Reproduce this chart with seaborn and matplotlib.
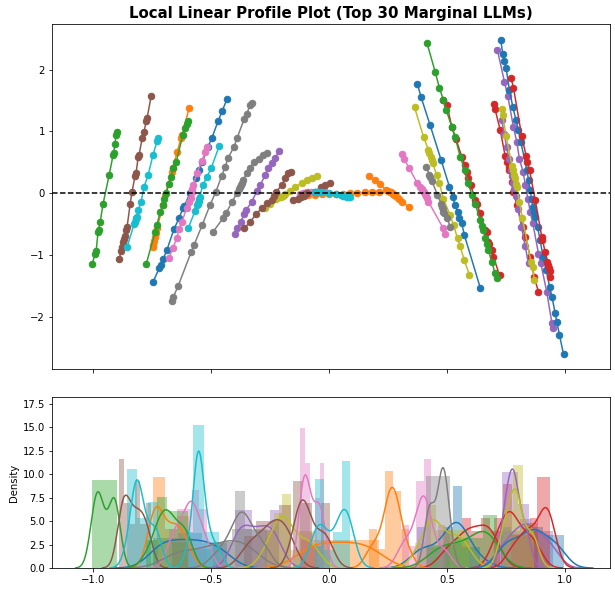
import numpy as np
import matplotlib
matplotlib.use("Agg")
import matplotlib.pyplot as plt
import seaborn as sns

# ---------------- data ----------------
# Round 1 groups (colour cycle order: blue, orange, green, red, purple, brown, pink, gray, olive, cyan)
bl1_x = [-0.746, -0.72, -0.713, -0.703, -0.687, -0.657, -0.636, -0.619, -0.614, -0.589, -0.564, -0.551, -0.538, -0.513, -0.497, -0.470, -0.453, -0.433]
bl1_y = [-1.44, -1.22, -1.17, -1.07, -0.92, -0.58, -0.41, -0.24, -0.21, 0.0, 0.24, 0.37, 0.5, 0.75, 0.89, 1.17, 1.33, 1.52]
o1_x = [-0.747, -0.745, -0.741, -0.737, -0.733, -0.729, -0.703, -0.695, -0.667, -0.662, -0.644, -0.628, -0.623, -0.593]
o1_y = [-0.875, -0.84, -0.78, -0.71, -0.64, -0.57, -0.19, -0.03, 0.34, 0.41, 0.66, 0.89, 0.94, 1.38]
g1_x = [-1.004, -0.992, -0.987, -0.979, -0.977, -0.970, -0.958, -0.932, -0.915, -0.913, -0.907, -0.903, -0.898]
g1_y = [-1.15, -0.99, -0.94, -0.63, -0.60, -0.47, -0.18, 0.29, 0.62, 0.65, 0.79, 0.94, 0.99]
r1_x = [0.484, 0.499, 0.52, 0.538, 0.562, 0.576, 0.583, 0.59, 0.60, 0.619, 0.626, 0.64, 0.661, 0.668, 0.675, 0.679, 0.689, 0.696, 0.722]
r1_y = [1.51, 1.43, 1.07, 0.87, 0.59, 0.45, 0.35, 0.24, 0.13, -0.11, -0.17, -0.33, -0.60, -0.63, -0.79, -0.82, -0.92, -1.03, -1.33]
pu1_x = [-0.40, -0.389, -0.375, -0.36, -0.352, -0.328, -0.306, -0.292, -0.271, -0.258, -0.243, -0.229, -0.212]
pu1_y = [-0.67, -0.57, -0.47, -0.34, -0.28, -0.14, 0.03, 0.13, 0.29, 0.41, 0.49, 0.57, 0.68]
b1_x = [-0.890, -0.881, -0.877, -0.872, -0.868, -0.864, -0.860, -0.856, -0.843, -0.835, -0.822, -0.818, -0.809, -0.805, -0.792, -0.784, -0.775, -0.771, -0.754]
b1_y = [-1.07, -0.94, -0.88, -0.80, -0.74, -0.69, -0.60, -0.55, -0.18, 0.02, 0.28, 0.32, 0.58, 0.62, 0.89, 0.99, 1.17, 1.22, 1.57]
p1_x = [-0.678, -0.662, -0.645, -0.636, -0.624, -0.603, -0.593, -0.586, -0.582, -0.579, -0.576, -0.561, -0.539, -0.525, -0.518]
p1_y = [-1.05, -0.89, -0.73, -0.58, -0.47, -0.24, -0.15, -0.08, 0.02, 0.07, 0.13, 0.32, 0.52, 0.66, 0.75]
gr1_x = [-0.667, -0.661, -0.64, -0.585, -0.572, -0.538, -0.504, -0.48, -0.455, -0.441, -0.428, -0.403, -0.39, -0.36, -0.349, -0.335, -0.326]
gr1_y = [-1.75, -1.69, -1.51, -0.96, -0.84, -0.52, -0.19, 0.02, 0.28, 0.42, 0.57, 0.75, 0.89, 1.2, 1.28, 1.43, 1.46]
y1_x = [-0.271, -0.25, -0.225, -0.21, -0.203, -0.197, -0.19, -0.186, -0.165, -0.144, -0.116, -0.095, -0.074, -0.053]
y1_y = [-0.24, -0.18, -0.09, -0.07, -0.06, -0.05, -0.03, -0.02, 0.03, 0.10, 0.16, 0.21, 0.25, 0.28]
c1_x = [-0.856, -0.826, -0.822, -0.820, -0.817, -0.814, -0.809, -0.797, -0.784, -0.767, -0.746, -0.729, -0.725]
c1_y = [-0.875, -0.50, -0.47, -0.42, -0.40, -0.39, -0.28, -0.15, 0.10, 0.29, 0.62, 0.84, 0.89]

# Round 2 groups
bl2_x = [0.374, 0.39, 0.428, 0.475, 0.51, 0.523, 0.534, 0.544, 0.552, 0.562, 0.573, 0.64]
bl2_y = [1.77, 1.55, 1.10, 0.53, 0.10, -0.06, -0.19, -0.30, -0.41, -0.49, -0.68, -1.53]
o2_x = [-0.12, -0.09, -0.06, -0.03, 0.0, 0.03, 0.06, 0.09, 0.12, 0.15, 0.18, 0.21]
o2_y = [-0.04, -0.03, -0.03, -0.02, -0.02, -0.01, -0.01, 0.0, 0.0, 0.01, 0.02, 0.02]
g2_x = [-0.775, -0.737, -0.73, -0.716, -0.705, -0.70, -0.691, -0.678, -0.669, -0.661, -0.648, -0.62, -0.61, -0.603, -0.599]
g2_y = [-1.15, -0.63, -0.52, -0.31, -0.19, -0.10, 0.0, 0.15, 0.26, 0.41, 0.50, 0.94, 1.05, 1.12, 1.17]
r2_x = [0.70, 0.703, 0.725, 0.746, 0.755, 0.76, 0.764, 0.774, 0.781, 0.795, 0.821, 0.831, 0.852, 0.869, 0.887]
r2_y = [1.44, 1.36, 1.02, 0.60, 0.50, 0.43, 0.37, 0.18, 0.02, -0.19, -0.55, -0.71, -1.03, -1.36, -1.60]
pu2_x = [0.713, 0.743, 0.757, 0.781, 0.795, 0.806, 0.821, 0.832, 0.842, 0.852, 0.863, 0.887, 0.897, 0.922, 0.944, 0.95]
pu2_y = [2.32, 1.80, 1.57, 1.07, 0.83, 0.56, 0.35, 0.13, -0.09, -0.30, -0.49, -0.98, -1.14, -1.60, -2.11, -2.19]
b2_x = [-0.36, -0.335, -0.309, -0.285, -0.264, -0.243, -0.232, -0.225, -0.2, -0.186, -0.174, -0.162]
b2_y = [-0.57, -0.47, -0.34, -0.24, -0.16, -0.11, -0.05, 0.02, 0.13, 0.24, 0.32, 0.35]
p2_x = [-0.123, -0.115, -0.11, -0.105, -0.1, -0.095, -0.088, -0.075, -0.06, -0.045, -0.04, -0.035, -0.02]
p2_y = [-0.02, -0.01, 0.0, 0.0, 0.0, 0.01, 0.01, 0.01, 0.02, 0.02, 0.03, 0.04, 0.05]
gr2_x = [-0.492, -0.45, -0.436, -0.412, -0.391, -0.38, -0.377, -0.372, -0.368, -0.364, -0.349, -0.335, -0.318, -0.297, -0.28, -0.264]
gr2_y = [-0.63, -0.41, -0.32, -0.15, 0.0, 0.07, 0.10, 0.13, 0.17, 0.21, 0.32, 0.41, 0.50, 0.55, 0.62, 0.65]
y2_x = [0.362, 0.40, 0.421, 0.425, 0.431, 0.435, 0.439, 0.456, 0.467, 0.484, 0.513, 0.527, 0.544, 0.555, 0.573, 0.594]
y2_y = [1.39, 0.91, 0.70, 0.65, 0.59, 0.53, 0.48, 0.29, 0.17, -0.09, -0.36, -0.52, -0.73, -0.86, -1.09, -1.32]
c2_x = [-0.597, -0.568, -0.558, -0.556, -0.555, -0.553, -0.551, -0.549, -0.535, -0.518, -0.50, -0.466]
c2_y = [-0.57, -0.29, -0.20, -0.18, -0.16, -0.13, -0.10, -0.07, 0.13, 0.26, 0.40, 0.76]

# Round 3 groups
bl3_x = [0.727, 0.736, 0.743, 0.75, 0.764, 0.778, 0.792, 0.802, 0.812, 0.838, 0.845, 0.852, 0.858, 0.863, 0.868, 0.873, 0.883, 0.894, 0.906, 0.92, 0.934, 0.944, 0.958, 0.965, 0.976, 0.993]
bl3_y = [2.48, 2.25, 2.14, 2.02, 1.67, 1.40, 1.18, 1.02, 0.83, 0.37, 0.21, 0.05, -0.10, -0.22, -0.30, -0.38, -0.55, -0.76, -1.03, -1.25, -1.52, -1.68, -1.95, -2.09, -2.30, -2.61]
o3_x = [0.167, 0.195, 0.216, 0.241, 0.25, 0.256, 0.262, 0.266, 0.271, 0.276, 0.287, 0.298, 0.308, 0.34]
o3_y = [0.28, 0.21, 0.14, 0.05, 0.03, 0.02, 0.01, 0.0, -0.01, -0.03, -0.06, -0.10, -0.14, -0.23]
g3_x = [0.414, 0.449, 0.467, 0.484, 0.496, 0.52, 0.534, 0.555, 0.576, 0.59, 0.605, 0.619, 0.64, 0.647, 0.654, 0.661, 0.671, 0.675, 0.689, 0.703, 0.71]
g3_y = [2.44, 1.97, 1.71, 1.51, 1.35, 1.07, 0.91, 0.59, 0.37, 0.16, -0.03, -0.17, -0.44, -0.54, -0.60, -0.73, -0.82, -0.92, -1.11, -1.30, -1.38]
r3_x = [0.771, 0.781, 0.816, 0.835, 0.84, 0.849, 0.873, 0.901, 0.904, 0.915, 0.925, 0.928, 0.931, 0.934, 0.936]
r3_y = [1.86, 1.71, 0.92, 0.60, 0.51, 0.37, -0.11, -0.71, -0.76, -0.95, -1.11, -1.16, -1.21, -1.27, -1.36]
pu3_x = [0.732, 0.742, 0.752, 0.762, 0.77, 0.775, 0.78, 0.785, 0.79, 0.80, 0.815, 0.83, 0.845]
pu3_y = [1.18, 0.95, 0.75, 0.55, 0.38, 0.28, 0.17, 0.07, -0.05, -0.25, -0.55, -0.85, -1.14]
b3_x = [-0.153, -0.133, -0.12, -0.114, -0.108, -0.102, -0.093, -0.06, -0.034, -0.017, 0.004]
b3_y = [-0.11, -0.09, -0.06, -0.05, -0.04, -0.02, 0.0, 0.02, 0.10, 0.13, 0.16]
p3_x = [0.308, 0.318, 0.34, 0.372, 0.385, 0.392, 0.397, 0.402, 0.406, 0.411, 0.415, 0.421, 0.482, 0.493]
p3_y = [0.63, 0.55, 0.40, 0.17, 0.10, 0.06, 0.04, 0.02, -0.01, -0.05, -0.08, -0.14, -0.56, -0.66]
gr3_x = [0.411, 0.425, 0.428, 0.435, 0.459, 0.475, 0.478, 0.481, 0.484, 0.488, 0.501, 0.513]
gr3_y = [0.43, 0.30, 0.26, 0.20, -0.03, -0.18, -0.22, -0.26, -0.30, -0.33, -0.41, -0.55]
y3_x = [0.732, 0.736, 0.75, 0.775, 0.778, 0.783, 0.787, 0.792, 0.795, 0.806, 0.819, 0.855, 0.863, 0.869]
y3_y = [1.37, 1.26, 0.92, 0.44, 0.38, 0.30, 0.24, 0.15, 0.10, -0.14, -0.41, -1.11, -1.19, -1.41]
c3_x = [-0.06, -0.05, -0.045, -0.04, -0.03, 0.0, 0.03, 0.05, 0.06, 0.065, 0.07, 0.075, 0.08, 0.09]
c3_y = [0.02, 0.02, 0.01, 0.01, 0.01, 0.0, -0.01, -0.03, -0.04, -0.05, -0.05, -0.06, -0.06, -0.07]

groups_x = [bl1_x, o1_x, g1_x, r1_x, pu1_x, b1_x, p1_x, gr1_x, y1_x, c1_x,
            bl2_x, o2_x, g2_x, r2_x, pu2_x, b2_x, p2_x, gr2_x, y2_x, c2_x,
            bl3_x, o3_x, g3_x, r3_x, pu3_x, b3_x, p3_x, gr3_x, y3_x, c3_x]
groups_y = [bl1_y, o1_y, g1_y, r1_y, pu1_y, b1_y, p1_y, gr1_y, y1_y, c1_y,
            bl2_y, o2_y, g2_y, r2_y, pu2_y, b2_y, p2_y, gr2_y, y2_y, c2_y,
            bl3_y, o3_y, g3_y, r3_y, pu3_y, b3_y, p3_y, gr3_y, y3_y, c3_y]

# histogram bin counts per group (same order as above)
hist_bins = [3, 3, 1, 6, 5, 6, 5, 4, 6, 3,
             7, 4, 4, 5, 5, 4, 5, 5, 5, 6,
             6, 5, 5, 3, 5, 4, 6, 1, 3, 4]

title = "Local Linear Profile Plot (Top 30 Marginal LLMs)"

# ---------------- figure ----------------
W, H, DPI = 615, 592, 72
fig = plt.figure(figsize=(W / DPI, H / DPI), dpi=DPI)
ax1 = fig.add_axes([52 / W, 1 - 369 / H, 558 / W, 345 / H])
ax2 = fig.add_axes([52 / W, 1 - 568 / H, 558 / W, 171 / H], sharex=ax1)

palette = sns.color_palette("tab10", 10)

for i, (gx, gy) in enumerate(zip(groups_x, groups_y)):
    c = palette[i % 10]
    sns.lineplot(x=gx, y=gy, ax=ax1, color=c, marker="o", markersize=6.5,
                 markeredgecolor=c, markeredgewidth=1, linewidth=1.5,
                 sort=False, estimator=None, legend=False)
    sns.histplot(x=gx, ax=ax2, bins=hist_bins[i], stat="density", color=c,
                 alpha=0.4, linewidth=0, edgecolor="none")
    sns.kdeplot(x=gx, ax=ax2, color=c, linewidth=1.5)

ax1.axhline(0, color="black", linestyle="--", linewidth=1.5)
ax1.set_title(title, fontsize=15, fontweight="bold")
ax1.set_xlim(-1.174, 1.19)
ax1.set_ylim(-2.85, 2.74)
ax1.set_yticks([-2, -1, 0, 1, 2])
ax1.tick_params(labelbottom=False)
ax1.set_xlabel("")
ax1.set_ylabel("")

ax2.set_ylim(0, 18.25)
ax2.set_yticks([0, 2.5, 5, 7.5, 10, 12.5, 15, 17.5])
ax2.set_xticks([-1.0, -0.5, 0.0, 0.5, 1.0])
ax2.set_ylabel("Density")
ax2.set_xlabel("")

for ax in (ax1, ax2):
    ax.tick_params(labelsize=10)

fig.savefig("out.png", dpi=DPI)
